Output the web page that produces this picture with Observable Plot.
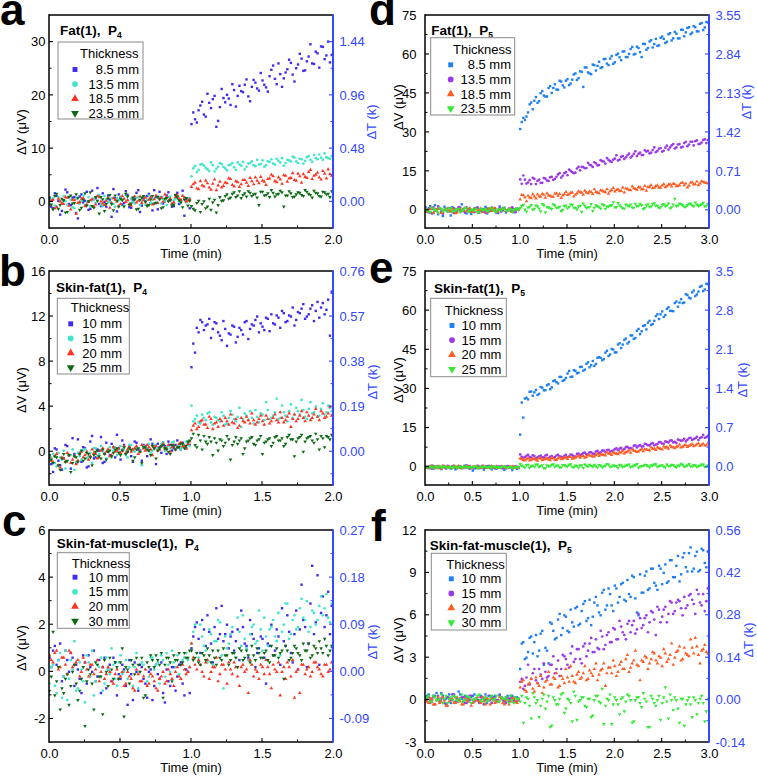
<!DOCTYPE html>
<html><head><meta charset="utf-8">
<script src="https://cdn.jsdelivr.net/npm/d3@7"></script>
<script src="https://cdn.jsdelivr.net/npm/@observablehq/plot@0.6"></script>
<style>
html,body{margin:0;padding:0;background:#fff;}
#fig{position:relative;width:757px;height:780px;overflow:hidden;background:#fff;}
#fig svg{position:absolute;}
</style></head>
<body><div id="fig"></div>
<script>
// ================= DATA =================
const STEP_2MIN = 0.025;   // sampling interval (min) in 2-min runs
const STEP_3MIN = 1 / 30;  // sampling interval (min) in 3-min runs
const HEAT_ON = 1.0;       // heating switched on at t = 1 min
// "Mid" arrays are the interleaved readings taken half a step later.

const xTicks2 = [0, 0.5, 1, 1.5, 2];
const xTicks3 = [0, 0.5, 1, 1.5, 2, 2.5, 3];

const thickFat = ["8.5 mm", "13.5 mm", "18.5 mm", "23.5 mm"];
const thickSkinFat = ["10 mm", "15 mm", "20 mm", "25 mm"];
const thickSkinFatMuscle = ["10 mm", "15 mm", "20 mm", "30 mm"];

// ---- panel a : Fat(1), P4 ----
const aYDomain = [-5, 35];
const aLeftTicks = [0, 10, 20, 30];
const aRightLabels = ["0.00", "0.48", "0.96", "1.44"];
const aBefore1 = [0.5,-1.2,1.1,-2.4,0.3,1.8,-0.6,0.9,-3.1,1.4,0.2,-1.5,2.1,0.7,-0.4,1.6,-0.9,0.4,2.4,-1.8,0.8,-0.2,1.3,-1.1,0.6,2.2,-0.7,0.1,1.5,-1.6,0.9,1.9,-0.3,1.2,0.4,-0.8,1.7,0.3,-2.6,0.6];
const aBeforeMid1 = [-0.9,1.6,0.2,-1.7,2.3,-0.4,0.8,-2.1,1.0,-0.1,1.9,-1.3,0.5,2.6,-0.8,0.0,1.2,-2.8,0.7,1.4,-0.5,2.0,-1.0,0.3,1.7,-1.9,0.6,1.1,-0.2,2.2,-1.4,0.9,0.1,1.8,-0.9,1.3,-0.4,2.1,0.5,-1.2];
const aAfter1 = [14.6,15.5,17.2,18.8,16.0,18.6,19.3,14.1,17.8,19.5,20.1,18.2,21.0,19.9,20.8,22.0,19.8,21.6,22.4,20.9,22.8,21.5,23.6,25.6,22.1,24.0,23.2,24.9,26.1,22.6,25.8,26.9,24.7,27.3,26.0,28.2,25.2,29.1,27.5,26.2,28.8];
const aAfterMid1 = [16.8,14.9,18.1,16.4,20.3,17.6,19.9,15.2,21.2,18.7,19.4,22.1,17.9,21.8,20.6,23.0,18.9,22.9,21.3,24.2,22.0,20.7,24.8,23.1,26.0,21.6,24.3,26.7,23.9,25.1,27.8,24.6,26.4,29.6,25.9,27.9,29.2,26.8,30.1,27.6];
const aBefore2 = [-0.3,0.6,-0.9,0.2,1.1,-0.5,0.4,-1.2,0.8,0.1,-0.6,0.9,0.3,-0.2,1.3,-0.8,0.5,0.0,-0.4,0.7,1.0,-0.7,0.3,0.6,-0.3,0.9,0.2,-0.5,1.2,0.4,-0.1,0.8,0.5,-0.6,1.0,0.3,0.7,-0.2,0.9,0.4];
const aBeforeMid2 = [0.4,-0.7,0.9,-0.2,0.1,1.0,-1.0,0.5,-0.4,1.2,0.0,-0.8,0.6,0.2,-0.5,1.1,-0.1,0.7,-0.9,0.3,0.5,1.3,-0.4,0.0,0.8,-0.6,1.0,0.4,-0.2,0.6,1.1,-0.3,0.2,0.9,-0.5,0.6,0.1,1.2,-0.1,0.7];
const aAfter2 = [4.8,6.7,6.0,7.1,6.4,5.8,6.9,6.2,7.3,6.6,5.9,7.0,6.5,7.4,6.8,6.1,7.2,7.6,6.7,7.0,7.8,6.9,7.5,7.2,8.1,7.4,6.8,7.9,7.6,8.3,7.3,8.0,7.7,8.6,7.5,8.2,8.9,7.9,8.4,8.1,8.7];
const aAfterMid2 = [6.3,5.6,7.0,6.8,6.1,7.4,5.7,6.6,7.1,6.3,6.9,7.3,6.0,7.0,7.5,6.6,7.3,6.9,7.9,7.1,6.6,7.6,8.0,7.0,7.7,8.2,7.3,7.8,8.5,7.6,8.1,7.2,8.4,7.9,8.8,8.0,8.3,9.1,8.2,8.6];
const aBefore3 = [-0.6,0.4,-1.0,0.1,-0.4,0.8,-1.4,0.3,-0.2,0.6,-0.8,0.0,0.5,-0.5,0.9,-0.3,0.2,-1.1,0.7,0.1,-0.4,0.6,0.3,-0.7,1.0,0.2,-0.2,0.8,0.4,-0.5,1.2,0.5,0.0,0.9,0.6,-0.1,1.3,0.4,0.8,0.2];
const aBeforeMid3 = [0.2,-1.2,0.6,-0.3,0.9,-0.7,0.4,-2.2,0.0,0.7,-0.5,0.3,-0.9,1.1,0.1,-0.6,0.8,-0.2,0.4,-0.8,1.1,0.0,-0.4,0.7,-0.1,1.0,0.3,-0.6,0.9,0.5,-0.2,0.8,1.4,0.2,-0.3,0.9,0.6,1.1,0.1,0.5];
const aAfter3 = [2.8,3.6,2.4,3.1,4.0,2.7,3.4,2.2,3.8,3.0,3.5,4.3,2.9,3.7,3.3,4.1,3.0,3.9,4.6,3.5,4.0,3.2,4.4,4.8,3.7,4.2,5.0,3.8,4.5,4.1,5.3,3.6,4.7,5.6,4.3,5.1,4.6,5.8,4.4,5.2,5.5];
const aAfterMid3 = [3.3,2.5,3.9,2.9,3.5,2.3,4.2,3.1,2.7,3.6,4.4,3.2,3.9,2.8,4.1,3.6,4.5,3.3,4.0,4.7,3.8,4.3,5.1,3.9,4.6,3.4,4.9,4.4,5.4,4.0,4.8,5.2,4.5,6.0,4.9,5.5,4.2,5.3,6.1,4.9];
const aBefore4 = [0.8,-1.4,1.5,-0.6,0.3,-1.9,1.2,-0.2,0.7,-1.1,1.6,0.1,-0.8,0.9,-2.2,0.5,-0.4,1.3,-1.6,0.2,0.6,-0.9,1.0,-0.3,0.4,-1.3,0.8,0.0,-0.6,1.1,-0.2,0.5,-1.0,0.7,0.3,-0.5,0.9,-0.1,0.4,-0.7];
const aBeforeMid4 = [-0.5,1.1,-1.3,0.6,-2.0,0.9,-0.3,1.4,-1.5,0.4,-0.7,1.8,-1.1,0.2,0.9,-1.7,0.6,-0.4,1.2,-0.9,0.3,1.5,-0.6,0.8,-1.4,0.4,1.1,-0.8,0.5,-0.3,0.9,-1.2,0.6,0.1,-0.7,1.3,0.3,-1.0,0.7,0.2];
const aAfter4 = [-0.8,-1.6,0.2,-0.4,-1.2,0.6,-0.1,-2.0,0.9,0.3,1.4,0.8,1.8,1.2,0.7,1.6,2.0,1.1,1.5,-0.6,1.9,1.3,0.9,1.7,1.4,2.1,-0.9,1.2,1.6,1.0,1.8,1.3,2.2,1.5,0.8,1.7,1.1,1.9,1.4,0.9,1.6];
const aAfterMid4 = [-1.3,-0.2,-1.9,0.1,-0.9,-1.5,0.4,-0.6,0.2,1.1,0.6,1.5,0.9,2.0,1.3,1.0,1.7,1.4,0.8,1.9,1.2,1.6,2.2,1.0,1.5,1.8,1.2,2.0,0.9,1.4,1.7,1.1,1.9,1.3,2.1,1.6,1.0,1.8,1.5,2.0];

// ---- panel b : Skin-fat(1), P4 ----
const bYDomain = [-3, 16];
const bLeftTicks = [0, 4, 8, 12, 16];
const bRightLabels = ["0.00", "0.19", "0.38", "0.57", "0.76"];
const bBefore1 = [-0.4,-1.8,0.2,-1.2,-0.6,0.5,-1.5,-0.2,1.1,-0.9,0.3,-1.3,1.4,-0.5,0.1,-1.0,0.8,-0.3,0.4,1.5,-0.7,0.6,0.0,-0.4,0.9,0.2,-0.8,0.5,0.1,0.7,-1.1,0.4,0.8,-0.2,0.6,0.3,1.0,0.2,0.5,0.7];
const bBeforeMid1 = [-1.1,0.3,-0.8,-1.6,0.6,-0.3,1.2,-1.0,-0.1,0.4,-1.4,0.9,-0.6,0.2,1.3,-0.9,0.0,0.7,-0.5,0.3,1.0,-0.2,0.5,-0.9,0.8,0.1,0.6,-0.4,1.1,0.3,0.7,-0.1,0.5,0.9,0.1,0.6,0.4,0.8,0.3,0.6];
const bAfter1 = [7.5,8.8,10.6,11.5,11.2,11.8,10.9,11.4,10.3,11.6,9.4,10.4,11.1,10.2,10.8,11.5,10.0,11.3,11.7,10.6,11.1,11.9,10.7,11.4,12.1,11.0,12.3,11.6,12.0,11.2,12.4,12.7,11.8,12.2,13.0,12.5,11.9,13.2,12.6,10.3,13.6];
const bAfterMid1 = [9.6,11.0,11.7,10.8,11.3,10.1,11.5,10.6,9.9,10.9,10.5,11.2,9.7,11.0,10.4,11.6,10.9,11.2,12.0,11.4,10.8,11.8,12.2,11.3,11.9,12.5,11.5,12.1,12.8,11.7,12.3,13.1,12.0,12.7,11.6,13.3,12.8,12.2,13.5,14.2];
const bBefore2 = [-0.8,-0.2,-1.3,-0.5,0.1,-0.9,-0.3,-1.6,-0.1,-0.7,0.2,-0.4,-1.0,0.3,-0.2,0.0,-0.6,0.4,0.1,-0.3,0.5,0.2,-0.5,0.6,0.0,0.3,-1.2,0.4,0.7,0.1,0.5,0.2,0.8,0.4,0.3,0.9,0.5,0.2,0.6,0.8];
const bBeforeMid2 = [-0.5,-1.0,-0.1,-0.7,-1.5,-0.3,0.2,-0.9,-0.4,0.1,-0.6,-0.1,0.3,-0.4,0.5,-0.2,0.1,-0.5,0.4,0.0,0.2,-0.3,0.6,0.1,0.4,0.0,0.5,0.2,-0.1,0.6,0.3,0.7,0.1,0.5,0.8,0.2,0.6,0.4,0.9,0.5];
const bAfter2 = [4.1,2.9,2.6,3.3,2.8,3.5,2.4,3.0,2.7,3.2,2.5,3.6,2.9,3.1,2.2,3.4,2.8,3.0,3.7,2.6,3.3,4.4,2.9,3.2,4.7,3.0,3.5,2.7,4.2,3.3,3.6,4.6,3.1,3.8,3.4,4.0,3.2,4.3,3.5,3.9,3.4];
const bAfterMid2 = [2.7,3.2,2.5,3.0,3.4,2.6,3.1,2.8,3.5,2.4,3.0,3.3,2.7,3.9,2.9,3.2,3.6,2.5,3.1,3.4,2.8,3.7,3.0,3.5,2.9,4.1,3.2,3.6,3.0,3.9,3.3,3.7,2.9,4.4,3.5,3.1,3.8,3.3,4.1,3.6];
const bBefore3 = [-0.5,-0.9,-0.2,-1.4,-0.6,-0.1,-1.0,-0.4,-0.8,0.0,-0.3,-0.7,0.2,-0.2,-0.5,0.3,0.0,-0.4,0.4,0.1,-0.1,0.5,0.2,0.0,0.3,-0.2,0.6,0.1,0.4,-0.3,0.5,0.2,0.7,0.3,0.0,0.6,0.4,0.8,0.5,0.7];
const bBeforeMid3 = [-0.8,-0.4,-1.2,-0.5,-0.9,-0.3,-0.7,-1.1,-0.2,-0.5,0.0,-0.4,-0.1,-0.6,0.1,-0.2,0.2,-0.3,0.0,0.3,0.1,-0.1,0.4,0.2,0.5,0.0,0.3,0.6,0.2,0.4,0.1,0.5,0.3,0.6,0.4,0.2,0.7,0.5,0.3,0.9];
const bAfter3 = [1.9,2.5,2.2,2.8,2.4,3.1,2.0,2.6,2.9,2.3,2.7,3.3,2.5,2.1,3.0,2.6,2.8,3.4,2.4,2.9,2.7,3.2,2.5,3.0,2.8,3.5,2.6,3.1,2.2,3.3,2.9,3.6,2.7,3.2,3.0,3.8,2.8,3.4,3.1,4.0,3.3];
const bAfterMid3 = [2.3,2.0,2.7,2.4,2.1,2.9,2.5,2.2,2.7,3.0,2.4,2.6,2.9,2.3,2.7,3.1,2.5,2.8,2.6,3.2,2.4,2.9,2.7,3.3,2.6,3.0,2.8,3.4,2.9,2.7,3.2,3.0,3.5,2.8,3.3,3.1,3.6,3.0,3.4,3.2];
const bBefore4 = [-0.3,-1.0,-0.5,-1.6,-0.2,-0.8,-1.8,-0.4,-0.9,0.1,-0.6,-0.2,-1.2,0.0,-0.4,0.2,-0.7,0.1,-0.1,0.3,-0.3,0.4,0.0,0.2,-0.5,0.3,-1.0,0.4,0.1,0.5,-0.6,0.3,0.6,0.2,-0.2,0.5,0.4,0.7,0.3,0.9];
const bBeforeMid4 = [-0.7,-0.4,-1.2,-0.6,-0.9,-0.3,-1.0,-0.5,-0.2,-0.8,-0.1,-0.5,-0.3,0.1,-0.6,-0.2,0.0,-0.4,0.2,-0.1,0.1,-0.2,0.3,-0.8,0.2,0.0,0.4,0.2,-0.3,0.3,0.1,0.5,0.3,0.0,0.6,0.2,0.4,0.7,0.5,1.0];
const bAfter4 = [1.2,0.6,1.5,0.2,0.9,1.3,-0.3,0.8,1.1,0.5,1.4,-0.7,0.9,0.7,1.2,0.3,1.0,1.3,0.6,1.1,-0.2,0.9,1.2,0.8,1.4,1.0,0.5,1.3,1.1,-0.4,1.2,1.5,0.9,1.3,1.0,1.6,0.2,1.2,1.4,1.1,1.3];
const bAfterMid4 = [1.6,0.4,1.0,1.4,0.7,0.9,1.2,0.1,1.0,0.8,1.1,0.6,1.3,1.0,-0.2,0.9,1.2,0.7,1.0,1.4,0.8,1.1,0.5,1.3,1.0,1.2,0.7,1.5,1.1,0.9,1.3,0.0,1.2,1.4,0.8,1.1,1.4,0.4,1.3,1.5];

// ---- panel c : Skin-fat-muscle(1), P4 ----
const cYDomain = [-3, 6];
const cLeftTicks = [-2, 0, 2, 4, 6];
const cRightLabels = ["-0.09", "0.00", "0.09", "0.18", "0.27"];
const cBefore1 = [0.6,0.9,0.3,1.2,-0.2,0.5,0.8,-0.6,0.1,-0.9,0.4,0.7,0.0,-0.4,0.5,0.2,-0.7,0.3,0.6,-1.0,-0.3,0.1,-1.4,-0.1,0.4,-0.8,0.2,-0.5,0.0,-1.2,0.3,-0.3,-0.9,0.1,-0.6,0.2,-0.2,0.4,-1.0,0.0];
const cBeforeMid1 = [0.2,1.1,0.5,-0.4,0.9,0.0,0.6,0.3,-0.3,0.7,-0.5,0.2,0.9,-0.2,-0.9,0.6,0.1,-0.4,0.4,-0.1,0.3,-0.6,0.5,-1.2,0.0,0.3,-0.3,-1.1,0.1,-0.6,-0.1,0.4,-1.3,-0.4,0.2,-0.8,0.3,-0.5,0.1,-0.9];
const cAfter1 = [1.0,1.9,1.4,2.2,1.1,1.7,0.4,2.7,1.6,1.3,2.0,1.5,0.9,1.8,2.6,1.2,0.6,1.6,0.2,1.0,1.4,-0.5,1.1,0.7,1.8,0.3,1.3,2.4,0.8,1.6,0.1,3.7,1.9,1.2,4.5,2.1,0.3,3.2,2.4,1.6,2.3];
const cAfterMid1 = [1.5,2.1,0.8,1.8,2.4,1.2,1.9,1.4,2.8,1.6,1.0,1.7,1.3,0.5,1.9,1.1,2.2,1.4,0.8,1.5,0.6,1.2,2.0,0.9,1.5,2.7,1.1,1.7,0.4,2.6,1.8,2.2,0.2,2.9,1.6,4.1,2.5,1.9,3.4,2.8];
const cBefore2 = [-0.5,0.3,-0.9,0.8,-0.2,-1.2,0.5,1.3,-0.7,0.1,-1.3,0.4,0.9,-0.4,0.2,-0.8,0.6,-0.1,0.3,-0.6,0.7,0.0,-0.3,0.5,0.2,-0.7,0.4,0.1,-0.2,0.6,0.3,-0.5,0.5,0.8,0.0,0.4,0.7,-0.3,0.6,0.5];
const cBeforeMid2 = [0.2,-0.6,0.5,-1.1,0.9,-0.3,0.1,-0.8,0.4,-0.4,0.7,-0.2,-1.0,0.3,0.6,-0.5,0.1,1.0,-0.3,0.4,-0.1,0.5,0.2,-0.6,0.8,0.0,0.3,-0.4,0.6,0.1,0.4,0.7,-0.2,0.3,0.9,0.2,-0.1,0.5,0.8,0.2];
const cAfter2 = [1.2,2.0,0.6,1.5,0.9,1.8,0.3,1.3,2.1,-0.7,1.0,1.6,0.8,2.3,1.1,1.4,0.5,1.9,1.2,2.6,0.9,1.5,1.8,2.2,1.3,0.7,2.0,2.9,1.6,2.4,1.9,3.1,2.2,1.7,2.6,2.0,2.8,2.4,3.3,2.1,2.6];
const cAfterMid2 = [1.7,0.8,2.0,1.1,0.4,1.6,1.3,2.2,0.7,1.5,1.2,1.9,0.6,1.7,2.4,1.0,1.6,2.0,1.3,1.8,2.3,1.1,1.9,1.5,2.5,1.7,2.9,1.4,2.2,1.8,2.7,2.3,3.0,1.9,2.5,2.2,3.2,2.7,2.3,2.9];
const cBefore3 = [0.7,0.4,0.9,0.2,0.6,-0.1,0.8,0.3,0.5,0.0,0.4,-0.2,0.3,0.1,-0.4,0.2,-0.1,0.0,-0.5,0.1,-0.2,-0.6,0.0,-0.3,-0.8,-0.1,-0.4,0.1,-0.5,-0.2,-0.7,-0.3,0.0,-0.4,-0.1,-0.6,0.2,-0.3,0.1,0.0];
const cBeforeMid3 = [0.5,0.8,0.1,0.6,0.3,0.9,0.2,0.4,-0.2,0.6,0.1,0.3,-0.1,0.5,0.0,-0.3,0.2,-0.4,-0.1,-0.3,0.0,-0.5,-0.2,-0.7,0.1,-0.4,-0.2,-0.6,-0.1,-0.4,-0.8,-0.2,-0.5,0.1,-0.3,0.0,-0.2,0.3,-0.1,0.2];
const cAfter3 = [1.2,0.3,0.5,0.0,0.4,-0.3,0.2,0.6,-0.1,0.3,-0.5,0.1,0.4,-0.2,0.2,0.0,-0.9,0.3,0.1,-0.3,0.2,0.5,-0.1,0.3,0.0,-1.0,0.2,0.4,-0.2,-1.1,0.1,0.3,-0.1,0.2,0.0,0.4,0.1,-0.2,0.3,0.1,0.2];
const cAfterMid3 = [0.6,0.1,0.3,-0.2,0.5,0.0,0.2,-0.4,0.3,0.1,0.4,-0.1,0.2,-0.6,0.3,0.1,0.5,-0.2,0.0,0.3,-0.1,0.2,-0.7,0.1,0.4,0.0,-0.3,0.2,0.5,0.0,-0.9,0.3,0.1,-0.2,0.4,0.2,-0.1,0.3,0.0,0.4];
const cBefore4 = [-0.8,1.7,-0.4,-1.6,-0.9,-0.1,-0.6,0.3,-1.2,-0.3,-2.3,0.1,-0.5,0.4,-0.2,-1.8,0.0,0.6,-0.3,0.2,0.4,-1.9,0.1,0.5,-0.1,0.3,0.6,-1.0,0.2,0.5,0.7,0.3,-1.1,0.6,0.4,0.7,0.5,0.3,0.8,0.6];
const cBeforeMid4 = [-0.2,-1.0,0.2,-0.7,-0.3,-1.4,0.0,-0.5,-0.8,0.2,-0.4,-0.1,-1.6,0.3,-0.2,0.5,-0.6,0.1,0.4,-0.3,1.0,0.2,-0.5,0.3,0.6,0.0,-1.1,0.4,0.7,0.2,0.5,0.8,0.3,0.6,-0.4,0.5,0.8,0.4,0.6,0.9];
const cAfter4 = [0.9,0.6,0.4,0.8,0.5,0.7,0.9,0.3,0.6,1.0,0.7,0.5,0.8,0.2,0.9,0.6,0.7,1.1,0.5,0.8,0.6,0.9,0.4,0.7,1.0,0.8,-0.3,0.9,0.6,1.1,0.8,0.5,0.9,1.2,0.7,1.0,1.3,0.8,1.1,0.9,1.0];
const cAfterMid4 = [0.5,0.8,0.3,0.7,1.0,0.4,0.6,0.9,0.5,0.7,0.3,0.8,0.6,1.0,0.5,0.9,0.4,0.7,1.0,0.6,0.8,0.5,1.1,0.7,0.6,0.9,1.1,0.5,0.8,1.0,0.7,1.2,0.9,0.6,1.1,0.8,1.0,1.4,0.7,1.1];

// ---- panel d : Fat(1), P5 ----
const dYDomain = [-7, 75];
const dLeftTicks = [0, 15, 30, 45, 60, 75];
const dRightLabels = ["0.00", "0.71", "1.42", "2.13", "2.84", "3.55"];
const dBefore1 = [1.2,-0.8,0.5,2.0,-1.5,0.3,1.4,-0.4,-2.0,0.8,-0.6,1.1,0.2,-1.2,0.6,-0.3,0.9,-0.9,0.4,1.3,-0.5,0.1,0.7,-1.0,0.5,1.0,-0.2,0.3,-0.7,0.6];
const dBeforeMid1 = [-0.4,1.6,-1.1,0.2,0.9,-2.2,0.6,-0.3,1.2,-0.9,0.4,2.3,-0.6,0.1,-1.4,0.7,1.0,-0.2,0.5,-1.2,0.8,0.2,-0.5,1.5,0.0,-0.8,0.6,0.9,-0.4,0.3];
const dAfter1 = [31.3,35.6,36.1,40.8,38.9,43.6,42.0,45.9,43.8,47.1,45.2,48.5,46.4,49.6,47.3,50.5,48.8,52.3,50.2,53.5,47.5,55.0,52.7,56.1,53.8,57.2,55.1,58.3,55.9,59.4,57.0,60.3,57.8,61.2,59.0,62.1,60.0,63.0,60.9,64.1,61.8,65.0,62.7,66.0,63.5,66.9,64.4,67.8,65.4,68.7,66.2,69.5,67.0,70.2,67.8,70.9,68.9,71.8,69.4,72.5,70.3];
const dAfterMid1 = [34.0,34.8,37.7,41.5,42.2,41.4,45.1,44.2,43.8,47.8,47.1,46.5,49.9,48.1,49.9,48.2,50.3,52.7,50.9,53.3,55.0,53.1,52.4,55.9,55.6,54.8,58.2,56.5,58.4,56.4,59.8,58.9,61.1,59.0,60.2,62.9,60.2,62.5,59.0,64.0,62.5,65.5,64.0,63.3,66.4,66.0,64.9,68.2,66.2,68.0,66.2,69.5,68.5,70.5,68.4,70.5,68.9,72.1,70.4,72.3];
const dBefore2 = [-0.5,0.8,-1.2,0.3,1.5,-0.7,0.2,-0.3,0.9,-1.0,0.4,-0.2,0.6,1.1,-0.6,0.0,0.7,-0.4,0.3,-0.9,0.5,1.0,-0.1,0.2,-0.5,0.8,0.1,-0.3,0.4,0.6];
const dBeforeMid2 = [0.4,-0.9,1.1,-0.2,0.6,-1.3,0.0,0.9,-0.6,0.3,1.2,-0.4,-0.9,0.5,0.2,-0.7,1.0,0.1,-0.5,0.7,-0.2,0.4,-1.0,0.8,0.3,-0.4,0.6,1.1,-0.7,0.2];
const dAfter2 = [11.9,13.4,10.3,11.6,12.5,10.1,11.8,10.6,12.2,11.3,12.9,12.1,13.8,12.6,14.3,13.5,15.2,14.3,16.1,15.4,16.6,16.3,17.5,16.7,18.1,17.4,18.9,18.0,19.4,18.6,19.9,19.2,20.6,19.8,21.2,20.3,21.7,20.9,22.2,21.3,22.6,21.9,23.2,22.4,23.7,22.6,24.1,23.4,25.0,23.8,25.3,24.2,25.9,24.7,26.4,25.0,26.9,25.6,27.1,25.9,26.5];
const dAfterMid2 = [10.2,11.8,10.7,10.1,12.1,11.3,10.6,12.4,11.4,12.7,11.7,12.9,14.3,13.3,14.7,15.7,14.7,14.5,16.7,16.7,16.2,18.3,17.3,18.5,17.3,19.3,18.8,20.1,18.9,19.5,21.2,19.5,20.9,20.4,21.8,20.9,22.7,21.7,21.3,23.1,22.9,22.2,24.2,22.9,24.0,22.9,24.9,24.2,25.5,24.2,25.5,24.4,26.4,25.3,26.4,26.6,25.5,26.1,27.3,27.0];
const dBefore3 = [0.3,-0.6,0.9,-0.2,0.5,-1.0,0.1,0.7,-0.4,0.2,-0.8,0.6,0.0,-0.3,0.8,-0.5,0.4,0.1,-0.7,0.3,0.6,-0.2,0.9,-0.4,0.2,0.5,-0.1,0.7,0.0,0.4];
const dBeforeMid3 = [-0.3,0.5,-0.9,0.2,0.8,-0.5,0.3,-0.1,0.6,-1.1,0.4,-0.2,0.9,0.1,-0.6,0.5,-0.3,0.7,0.0,-0.8,0.3,0.6,-0.4,0.1,0.8,-0.2,0.4,-0.6,0.5,0.2];
const dAfter3 = [4.2,5.8,3.5,5.0,6.1,4.6,5.4,6.3,4.9,5.7,5.2,6.4,5.6,4.8,6.2,5.9,6.7,5.3,6.5,7.0,6.0,6.8,7.3,6.3,7.1,6.6,7.6,7.0,6.4,7.8,7.3,8.1,7.5,6.9,8.2,7.7,8.5,7.9,8.8,8.2,7.6,9.0,8.5,9.3,8.7,9.6,8.9,9.9,9.2,10.1,9.4,10.5,9.7,8.8,10.6,10.0,11.1,10.3,10.9,10.5,11.4];
const dAfterMid3 = [5.9,5.0,5.6,4.7,5.3,6.1,5.2,6.0,6.5,5.6,5.2,6.5,6.3,5.7,7.1,6.2,6.9,6.0,7.3,6.8,7.6,6.6,7.0,8.1,6.8,7.7,7.2,8.1,7.4,8.6,7.8,7.4,8.7,8.4,7.8,9.2,8.2,8.9,8.0,9.4,8.9,9.7,8.7,9.6,8.7,10.1,9.3,10.1,10.2,9.3,9.7,10.6,10.3,9.5,10.8,10.1,9.7,11.2,10.7,10.3];
const dBefore4 = [0.5,-0.4,1.0,0.0,-0.9,0.6,0.2,-0.5,0.8,-0.2,0.4,-0.7,0.3,0.9,-0.3,0.1,0.6,-0.6,0.2,0.5,-0.1,0.7,-0.4,0.3,0.0,0.8,-0.2,0.4,0.1,0.6];
const dBeforeMid4 = [0.2,-0.7,0.6,-0.1,0.9,-0.4,0.3,0.7,-0.6,0.1,0.5,-0.2,0.8,-0.5,0.4,0.0,-0.8,0.6,0.2,-0.3,0.9,0.1,-0.5,0.4,0.7,-0.1,0.3,-0.6,0.5,0.2];
const dAfter4 = [0.9,2.1,-0.5,1.4,0.3,1.8,0.7,2.4,-0.8,1.2,0.5,1.9,1.0,-0.3,1.6,0.8,2.2,1.1,0.4,1.7,2.6,0.9,1.3,-0.2,1.9,1.2,2.3,0.6,1.5,2.0,1.1,2.8,1.4,0.7,1.8,2.2,1.0,1.6,2.5,0.5,1.9,1.3,2.4,1.7,0.9,2.1,1.5,2.7,1.2,4.4,1.8,2.3,1.4,2.0,2.6,1.6,2.2,1.9,2.9,1.7,2.3];
const dAfterMid4 = [1.6,0.3,1.1,2.0,0.6,1.5,-0.4,1.9,1.2,0.8,2.3,1.0,1.4,0.2,1.8,1.3,2.1,0.9,1.5,-0.6,1.7,1.2,2.4,1.0,1.6,0.7,2.0,1.4,1.8,3.1,1.3,1.9,0.8,2.2,1.6,1.1,2.5,1.7,2.0,0.9,2.3,1.5,2.7,1.8,1.2,2.4,1.9,0.8,2.2,1.6,2.6,2.0,1.4,2.5,1.9,3.0,1.7,2.3,1.5,2.4];

// ---- panel e : Skin-fat(1), P5 ----
const eYDomain = [-7, 75];
const eLeftTicks = [0, 15, 30, 45, 60, 75];
const eRightLabels = ["0.0", "0.7", "1.4", "2.1", "2.8", "3.5"];
const eBefore1 = [0.3,-0.4,0.6,-0.2,0.1,-0.7,0.4,0.0,-0.5,0.5,-0.1,0.2,-0.3,0.7,-0.6,-1.3,0.1,-0.4,0.3,-0.2,0.5,-0.8,0.0,0.2,-0.3,-1.0,0.4,-0.1,0.2,-0.6];
const eBeforeMid1 = [-0.2,0.4,-0.6,0.2,-0.1,0.5,-0.4,0.1,0.3,-0.8,0.2,-0.3,0.6,-0.1,0.0,-0.5,0.3,-0.2,-0.9,0.4,-0.3,0.1,-0.6,0.3,0.0,-0.4,0.2,-1.1,0.1,-0.3];
const eAfter1 = [12.5,19.0,26.6,28.9,27.4,29.6,28.1,30.5,29.5,31.8,30.6,33.3,32.1,34.6,33.4,35.9,34.6,37.2,36.0,38.4,37.0,39.6,38.3,40.7,39.6,42.2,41.0,43.9,42.6,45.3,44.0,47.0,45.7,48.8,47.4,50.5,49.2,52.3,51.0,54.1,52.8,56.1,54.9,57.9,56.8,59.7,58.3,61.3,59.9,62.9,61.5,64.4,63.1,66.0,64.7,67.7,66.2,69.1,67.5,70.3,69.0];
const eAfterMid1 = [24.8,26.3,26.0,29.0,28.7,27.7,30.7,29.5,31.4,29.9,33.0,32.6,34.6,33.1,34.2,36.9,34.7,36.9,36.2,38.5,37.4,40.2,39.1,38.8,41.9,41.9,41.4,44.6,43.2,45.1,44.0,47.5,47.0,49.3,48.0,50.5,49.5,53.0,52.1,54.4,55.4,54.5,56.1,58.6,58.6,57.6,60.7,59.9,59.8,63.5,63.1,62.9,66.3,65.0,67.0,65.6,67.3,69.5,68.1,70.2];
const eBefore2 = [-0.2,0.3,-0.5,0.1,0.4,-0.3,0.0,0.5,-0.1,0.2,-0.4,0.3,0.0,-0.2,0.4,0.1,-0.3,0.2,0.5,-0.1,0.0,0.3,-0.4,0.1,0.2,-0.2,0.4,0.0,-0.3,0.1];
const eBeforeMid2 = [0.1,-0.3,0.4,0.0,-0.2,0.3,-0.4,0.1,0.2,-0.1,0.4,-0.3,0.1,0.3,-0.2,0.0,0.5,-0.1,-0.3,0.2,0.1,-0.2,0.3,0.0,-0.4,0.2,0.1,-0.1,0.3,0.0];
const eAfter2 = [4.9,3.6,4.4,3.9,4.6,3.4,4.2,3.8,4.5,3.5,4.3,3.9,4.7,4.0,4.4,3.8,4.8,4.2,5.1,4.6,5.4,4.9,5.7,5.2,6.0,5.5,6.4,5.8,6.7,6.2,6.9,6.5,7.4,6.9,7.8,7.3,8.2,7.6,8.5,8.0,8.8,8.4,9.2,8.7,9.6,9.1,9.9,9.5,10.3,9.7,10.6,10.1,10.9,10.5,11.3,10.8,11.6,11.2,12.4,11.5,11.9];
const eAfterMid2 = [4.0,3.9,4.7,3.7,4.3,3.8,4.5,3.8,4.7,4.0,3.6,4.5,4.2,3.7,4.7,4.1,4.7,4.1,5.2,4.9,5.6,4.9,5.7,5.1,6.3,5.7,6.4,6.6,6.0,6.4,7.2,7.1,6.6,7.7,7.3,7.1,8.4,8.1,7.9,9.0,8.4,9.0,8.4,8.9,9.6,9.0,9.7,10.2,9.5,9.3,10.4,10.3,9.9,11.1,10.5,11.1,10.4,11.5,11.3,12.0];
const eBefore3 = [0.1,-0.3,0.4,-0.1,0.2,-0.5,0.3,0.0,-0.2,0.5,0.1,-0.4,0.2,0.4,-0.1,0.0,0.3,-0.3,0.1,0.2,-0.2,0.4,0.0,-0.1,0.3,0.1,-0.3,0.2,0.0,-0.2];
const eBeforeMid3 = [-0.2,0.3,0.0,-0.4,0.2,0.5,-0.1,0.1,-0.3,0.2,0.4,-0.2,0.0,0.3,-0.5,0.1,0.2,-0.1,0.4,-0.3,0.1,0.0,0.3,-0.2,0.2,-0.4,0.1,0.3,-0.1,0.0];
const eAfter3 = [3.4,2.8,3.1,2.6,3.3,2.9,3.5,2.7,3.2,3.0,3.6,2.9,3.4,3.1,3.7,3.2,3.9,3.5,4.1,3.7,4.3,3.9,4.5,4.1,4.7,4.3,4.9,4.5,5.2,4.7,5.4,5.0,5.7,5.3,6.0,5.6,6.3,5.9,6.5,6.1,6.8,6.4,7.0,6.6,7.3,6.8,7.5,7.1,7.8,7.3,8.0,7.6,8.3,7.8,8.5,8.1,8.8,8.2,9.0,8.4,8.6];
const eAfterMid3 = [3.1,2.6,3.5,2.8,3.2,2.5,3.4,3.0,3.5,2.7,3.4,2.8,3.8,3.3,3.8,3.9,3.3,3.7,4.4,4.2,3.7,4.7,4.3,4.1,5.2,4.9,4.7,5.7,5.2,5.7,5.2,5.7,6.3,5.7,6.4,6.8,6.2,6.0,7.0,6.9,6.6,7.6,7.1,7.6,7.0,8.0,7.7,8.3,7.6,7.9,8.7,7.8,8.5,8.2,8.9,8.3,9.1,8.6,8.3,9.2];
const eBefore4 = [0.2,-0.1,0.0,0.3,-0.3,0.1,0.4,-0.2,0.2,0.0,-0.4,0.3,0.1,-0.1,0.2,0.0,0.4,-0.2,0.1,0.3,0.0,-0.3,0.2,0.1,-0.1,0.3,0.0,0.2,-0.2,0.1];
const eBeforeMid4 = [0.0,0.3,-0.2,0.1,0.4,-0.1,0.2,0.0,-0.3,0.3,0.1,-0.2,0.4,0.0,-0.1,0.2,-0.3,0.3,0.1,-0.1,0.2,0.4,-0.2,0.0,0.3,-0.1,0.1,-0.3,0.2,0.0];
const eAfter4 = [1.2,0.3,0.8,-0.2,0.6,1.0,0.1,0.7,-0.4,0.5,0.9,0.2,0.6,-0.1,0.8,0.4,1.1,0.0,0.5,0.7,-0.3,0.6,0.9,0.2,0.4,0.8,0.0,0.6,1.0,0.3,0.5,-0.2,0.7,0.4,0.9,0.1,0.6,1.2,0.3,0.5,0.8,0.0,0.6,1.1,0.4,0.7,-0.1,0.5,0.9,0.3,0.6,1.3,0.2,0.7,0.4,0.8,0.1,0.6,1.0,0.3,0.5];
const eAfterMid4 = [0.6,-0.1,0.9,0.4,0.2,1.0,0.5,-0.3,0.7,0.3,1.1,0.6,0.0,0.8,0.4,0.9,0.2,0.6,-0.2,0.7,1.0,0.3,0.5,0.9,-0.1,0.6,0.4,1.2,0.2,0.7,0.5,0.9,0.1,0.6,1.0,0.3,0.8,-0.2,0.5,0.9,0.4,0.7,1.1,0.2,0.6,0.3,1.0,0.5,0.8,-0.1,0.6,0.9,0.4,1.2,0.3,0.7,0.5,1.0,0.2,0.7];

// ---- panel f : Skin-fat-muscle(1), P5 ----
const fYDomain = [-3, 12];
const fLeftTicks = [-3, 0, 3, 6, 9, 12];
const fRightLabels = ["-0.14", "0.00", "0.14", "0.28", "0.42", "0.56"];
const fBefore1 = [0.2,0.4,-0.1,0.3,0.1,0.5,0.0,0.2,-0.2,0.3,0.1,0.4,-0.1,0.2,0.0,0.3,0.1,-0.2,0.2,0.4,0.0,0.1,0.3,-0.1,0.2,0.0,0.3,0.1,-0.1,0.2];
const fBeforeMid1 = [0.3,0.0,0.2,0.5,-0.1,0.3,0.1,0.4,0.0,0.2,0.6,0.1,0.3,-0.1,0.2,0.4,0.0,0.3,0.1,-0.2,0.3,0.2,0.0,0.4,0.1,0.2,-0.1,0.3,0.2,0.0];
const fAfter1 = [2.2,4.1,3.0,4.4,3.3,4.6,3.5,4.9,3.7,2.6,5.4,4.3,5.7,4.6,6.0,4.9,6.4,5.2,6.6,5.4,6.8,5.6,7.1,5.9,7.3,6.2,7.6,6.4,7.9,6.7,8.1,6.9,8.2,7.1,8.5,7.3,8.7,6.2,8.9,7.6,9.1,7.9,9.3,8.1,9.5,8.2,9.6,8.4,9.9,8.7,10.2,8.9,10.4,9.1,10.8,9.3,10.5,9.2,10.6,9.4,10.1];
const fAfterMid1 = [4.0,2.9,3.4,4.5,4.1,3.1,4.7,2.5,3.5,5.5,4.9,4.4,6.1,5.1,5.9,4.8,5.5,6.5,5.3,6.3,7.0,5.8,5.3,6.9,6.7,6.0,7.8,6.7,7.5,6.3,7.9,7.3,8.3,7.0,7.5,8.8,7.2,6.0,7.6,8.8,7.8,9.3,8.3,7.8,9.3,9.0,8.3,9.9,8.7,9.5,8.4,10.1,9.4,10.4,9.1,10.2,9.1,10.7,9.7,10.5];
const fBefore2 = [-0.1,0.2,0.0,-0.3,0.3,0.1,-0.2,0.2,0.0,0.4,-0.1,0.1,0.2,-0.2,0.3,0.0,0.1,-0.1,0.2,0.0,0.3,-0.2,0.1,0.0,0.2,-0.1,0.1,0.3,0.0,-0.1];
const fBeforeMid2 = [0.1,-0.2,0.3,0.0,-0.1,0.2,-0.3,0.1,0.4,-0.1,0.0,0.2,-0.2,0.1,0.3,-0.1,0.0,0.2,-0.3,0.1,0.0,0.2,-0.1,0.3,0.0,-0.2,0.1,0.2,-0.1,0.1];
const fAfter2 = [1.3,0.8,1.6,1.1,1.9,1.4,2.2,1.5,2.0,1.7,2.5,1.9,2.8,2.2,3.1,2.5,3.3,2.7,3.6,2.9,3.8,3.1,4.0,3.4,4.3,3.6,4.5,3.9,4.8,4.1,5.0,4.3,5.2,4.6,5.4,4.8,5.6,5.0,5.8,5.3,6.0,5.5,6.2,4.6,6.4,5.9,6.6,6.1,6.9,6.3,7.1,6.5,7.3,6.7,7.5,6.8,7.8,6.9,7.5,7.0,7.3];
const fAfterMid2 = [1.5,1.0,2.5,1.5,2.2,1.2,1.8,2.6,1.6,2.5,3.1,2.2,1.7,3.2,2.9,2.3,3.8,2.9,3.6,2.6,4.0,3.5,4.4,3.4,3.7,4.9,3.6,4.6,4.1,5.1,4.3,5.6,4.8,4.3,5.6,5.3,4.7,6.1,5.1,5.8,4.8,6.3,5.7,6.6,5.5,6.4,5.5,7.0,6.1,6.9,7.0,6.0,6.5,7.4,7.1,6.1,7.5,6.7,6.3,7.9];
const fBefore3 = [0.0,-0.2,0.1,-0.3,0.2,-0.1,0.0,-0.4,0.1,-0.2,0.2,-0.1,-0.3,0.0,0.1,-0.2,0.0,-0.1,0.2,-0.3,0.0,0.1,-0.2,-0.1,0.1,-0.3,0.0,-0.1,0.1,-0.2];
const fBeforeMid3 = [-0.1,0.1,-0.3,0.0,-0.2,0.2,-0.4,-0.1,0.1,-0.2,0.0,-0.3,0.1,-0.1,-0.4,0.0,0.2,-0.2,-0.1,0.1,-0.3,0.0,-0.1,0.2,-0.2,0.0,-0.3,0.1,-0.1,0.0];
const fAfter3 = [0.9,1.4,0.6,1.2,0.8,1.6,1.0,0.5,1.3,2.0,1.1,1.5,0.9,1.7,1.2,1.6,2.4,1.3,1.8,1.5,1.9,1.4,2.1,1.7,2.6,1.8,2.2,1.0,2.3,1.9,2.4,2.0,2.7,2.2,3.2,2.3,2.8,2.5,1.4,2.7,3.0,2.6,3.4,2.8,3.1,2.4,3.3,2.9,4.0,3.0,3.5,2.8,3.7,3.2,4.3,3.3,3.8,2.6,3.6,3.4,3.3];
const fAfterMid3 = [1.3,0.7,1.1,1.5,0.6,1.2,1.7,0.9,1.4,1.1,1.6,1.9,1.0,1.5,2.2,1.3,1.7,1.2,2.0,1.6,2.4,1.5,1.9,2.2,1.4,2.1,2.6,1.9,2.3,2.8,1.7,2.5,2.2,2.9,2.0,2.6,3.5,2.4,2.8,3.1,2.2,2.9,3.3,2.6,3.0,3.6,2.7,3.2,2.5,3.4,3.8,2.9,3.3,3.1,3.7,4.4,3.2,3.5,3.9,3.3];
const fBefore4 = [0.1,0.3,-0.1,0.2,0.0,0.4,0.1,-0.2,0.2,0.3,0.0,0.1,-0.1,0.3,0.2,0.0,0.1,0.4,-0.1,0.2,0.0,0.3,0.1,-0.1,0.2,0.1,0.0,0.3,-0.2,0.1];
const fBeforeMid4 = [0.2,-0.1,0.3,0.0,0.1,-0.2,0.3,0.1,0.0,0.2,-0.1,0.4,0.0,0.2,-0.2,0.1,0.3,0.0,0.1,-0.1,0.2,0.0,0.3,-0.1,0.1,0.2,-0.2,0.0,0.2,0.1];
const fAfter4 = [-0.1,-1.6,0.2,-0.4,0.5,-0.2,-1.2,0.1,-0.6,0.3,-1.8,0.0,-0.3,0.4,-0.9,0.1,-0.2,0.6,-1.4,0.0,0.2,-0.5,0.1,-1.1,0.3,-0.1,0.8,-0.4,0.0,-1.7,0.2,-0.3,0.1,-0.8,0.4,0.0,-1.5,0.2,-0.2,0.5,-0.1,-1.9,0.1,-0.4,0.3,-0.2,0.9,-1.3,0.0,0.2,-0.6,0.1,-1.8,0.0,-0.3,0.2,-1.0,0.1,-0.2,-0.8,-0.1];
const fAfterMid4 = [0.3,-0.2,0.1,-1.3,0.2,0.0,-0.4,0.4,-0.1,-1.9,0.2,-0.3,0.1,0.5,-0.6,0.0,-1.5,0.3,-0.1,0.2,-0.4,0.1,-1.2,0.0,0.3,-0.2,-1.7,0.1,0.4,-0.3,0.0,-1.0,0.2,-0.1,0.3,-1.6,0.0,0.2,-0.5,0.1,-1.9,0.3,-0.2,0.0,-1.4,0.2,-0.1,0.4,-0.7,0.0,-1.6,0.1,-0.3,0.2,-1.2,0.0,-0.2,0.3,-1.5,0.1];

// ================= STYLE / LAYOUT =================
const BLUE = "#3348ff";
const FONT = '"Liberation Sans", Arial, Helvetica, sans-serif';
const palP4 = ["#3f2bef", "#3fe6cc", "#ff3322", "#0c6a12"];
const palP5 = ["#1f7ff0", "#9a3ae8", "#ff5c22", "#35ea35"];
const triangleDown = {
  draw(ctx, size) {
    const s3 = Math.sqrt(3);
    const y = -Math.sqrt(size / (s3 * 3));
    ctx.moveTo(0, -y * 2);
    ctx.lineTo(-s3 * y, y);
    ctx.lineTo(s3 * y, y);
    ctx.closePath();
  }
};
const plotSymbols = ["square", "circle", "triangle", triangleDown];
const legendSymbols = [d3.symbolSquare, d3.symbolCircle, d3.symbolTriangle, triangleDown];

const cols = [
  {left: 0, width: 378, ml: 49, mr: 45, padL: 4},
  {left: 378, width: 379, ml: 47, mr: 48, padL: 9}
];
const rows = [
  {top: 0, frameTop: 15, frameBottom: 228},
  {top: 256, frameTop: 271, frameBottom: 485},
  {top: 515, frameTop: 530, frameBottom: 742}
];

const panels = [
  {letter: "a", lx: 0, ly: 25, col: 0, row: 0, title: "Fat(1),  P", sub: "4", names: thickFat, pal: palP4,
   xmax: 2, step: STEP_2MIN, xTicks: xTicks2, yDomain: aYDomain, leftTicks: aLeftTicks, rightLabels: aRightLabels,
   before: [aBefore1, aBefore2, aBefore3, aBefore4], beforeMid: [aBeforeMid1, aBeforeMid2, aBeforeMid3, aBeforeMid4],
   after: [aAfter1, aAfter2, aAfter3, aAfter4], afterMid: [aAfterMid1, aAfterMid2, aAfterMid3, aAfterMid4],
   vLab: [21, 132], tLab: [371, 122],
   lg: {box: [58, 42, 143, 119], title: [60, 35], thick: [80, 58], entryEnd: 139, first: 74, markX: 75}},
  {letter: "b", lx: -1, ly: 286, col: 0, row: 1, title: "Skin-fat(1),  P", sub: "4", names: thickSkinFat, pal: palP4,
   xmax: 2, step: STEP_2MIN, xTicks: xTicks2, yDomain: bYDomain, leftTicks: bLeftTicks, rightLabels: bRightLabels,
   before: [bBefore1, bBefore2, bBefore3, bBefore4], beforeMid: [bBeforeMid1, bBeforeMid2, bBeforeMid3, bBeforeMid4],
   after: [bAfter1, bAfter2, bAfter3, bAfter4], afterMid: [bAfterMid1, bAfterMid2, bAfterMid3, bAfterMid4],
   vLab: [21, 390], tLab: [372, 382],
   lg: {box: [57.3, 298.3, 129.3, 374], title: [56, 292], thick: [70.7, 312.3], entryEnd: 122, first: 328.3, markX: 70.7}},
  {letter: "c", lx: 2, ly: 536, col: 0, row: 2, title: "Skin-fat-muscle(1),  P", sub: "4", names: thickSkinFatMuscle, pal: palP4,
   xmax: 2, step: STEP_2MIN, xTicks: xTicks2, yDomain: cYDomain, leftTicks: cLeftTicks, rightLabels: cRightLabels,
   before: [cBefore1, cBefore2, cBefore3, cBefore4], beforeMid: [cBeforeMid1, cBeforeMid2, cBeforeMid3, cBeforeMid4],
   after: [cAfter1, cAfter2, cAfter3, cAfter4], afterMid: [cAfterMid1, cAfterMid2, cAfterMid3, cAfterMid4],
   vLab: [21, 648], tLab: [372, 642],
   lg: {box: [57.3, 552.7, 129.3, 628.3], title: [56.7, 548], thick: [71.7, 567.7], entryEnd: 128.3, first: 581.7, markX: 75}},
  {letter: "d", lx: 369, ly: 25, col: 1, row: 0, title: "Fat(1),  P", sub: "5", names: thickFat, pal: palP5,
   xmax: 3, step: STEP_3MIN, xTicks: xTicks3, yDomain: dYDomain, leftTicks: dLeftTicks, rightLabels: dRightLabels,
   before: [dBefore1, dBefore2, dBefore3, dBefore4], beforeMid: [dBeforeMid1, dBeforeMid2, dBeforeMid3, dBeforeMid4],
   after: [dAfter1, dAfter2, dAfter3, dAfter4], afterMid: [dAfterMid1, dAfterMid2, dAfterMid3, dAfterMid4],
   vLab: [398, 107], tLab: [746, 102],
   lg: {box: [430.7, 37.7, 514.7, 115], title: [431.3, 35], thick: [453, 54], entryEnd: 511, first: 69.3, markX: 450.7}},
  {letter: "e", lx: 369, ly: 283, col: 1, row: 1, title: "Skin-fat(1),  P", sub: "5", names: thickSkinFat, pal: palP5,
   xmax: 3, step: STEP_3MIN, xTicks: xTicks3, yDomain: eYDomain, leftTicks: eLeftTicks, rightLabels: eRightLabels,
   before: [eBefore1, eBefore2, eBefore3, eBefore4], beforeMid: [eBeforeMid1, eBeforeMid2, eBeforeMid3, eBeforeMid4],
   after: [eAfter1, eAfter2, eAfter3, eAfter4], afterMid: [eAfterMid1, eAfterMid2, eAfterMid3, eAfterMid4],
   vLab: [398, 380], tLab: [742, 380],
   lg: {box: [430.7, 298.3, 506.3, 376.7], title: [434, 293], thick: [444.7, 315], entryEnd: 501.3, first: 330, markX: 452}},
  {letter: "f", lx: 371, ly: 541, col: 1, row: 2, title: "Skin-fat-muscle(1),  P", sub: "5", names: thickSkinFatMuscle, pal: palP5,
   xmax: 3, step: STEP_3MIN, xTicks: xTicks3, yDomain: fYDomain, leftTicks: fLeftTicks, rightLabels: fRightLabels,
   before: [fBefore1, fBefore2, fBefore3, fBefore4], beforeMid: [fBeforeMid1, fBeforeMid2, fBeforeMid3, fBeforeMid4],
   after: [fAfter1, fAfter2, fAfter3, fAfter4], afterMid: [fAfterMid1, fAfterMid2, fAfterMid3, fAfterMid4],
   vLab: [398, 640], tLab: [748, 640],
   lg: {box: [431.3, 553.3, 506.3, 630], title: [429.7, 550], thick: [446.3, 569], entryEnd: 501.3, first: 583.3, markX: 451.3}}
];

const fig = document.getElementById("fig");

for (const p of panels) {
  const C = cols[p.col], R = rows[p.row];
  const height = R.frameBottom - R.top + 38;
  const series = p.names.map((name, k) => [
    ...p.before[k].map((v, i) => ({t: i * p.step, v})),
    ...p.beforeMid[k].map((v, i) => ({t: (i + 0.5) * p.step, v})),
    ...p.after[k].map((v, j) => ({t: HEAT_ON + j * p.step, v})),
    ...p.afterMid[k].map((v, j) => ({t: HEAT_ON + (j + 0.5) * p.step, v}))
  ]);
  const rightMap = new Map(p.leftTicks.map((d, i) => [d, p.rightLabels[i]]));
  const chart = Plot.plot({
    width: C.width, height,
    marginLeft: C.ml, marginRight: C.mr, marginTop: R.frameTop - R.top, marginBottom: 38,
    style: {fontFamily: FONT, fontSize: "13px", background: "transparent", overflow: "visible", color: "#000"},
    x: {domain: [0, p.xmax]},
    y: {domain: p.yDomain},
    marks: [
      ...series.map((s, k) => Plot.dot(s, {x: "t", y: "v", symbol: plotSymbols[k], fill: p.pal[k], r: 1.35, clip: true})),
      Plot.axisX(p.xTicks, {tickSize: 0, tickPadding: 6, tickFormat: d3.format(".1f"), label: null}),
      Plot.axisY(p.leftTicks, {anchor: "left", tickSize: 0, tickPadding: C.padL, tickFormat: d => String(d), label: null}),
      Plot.axisY(p.leftTicks, {anchor: "right", tickSize: 0, tickPadding: 6, tickFormat: d => rightMap.get(d), label: null, color: BLUE})
    ]
  });
  chart.style.left = C.left + "px";
  chart.style.top = R.top + "px";
  fig.appendChild(chart);

  const X = v => chart.scale("x").apply(v);
  const Y = v => chart.scale("y").apply(v);
  const g = d3.select(chart).append("g").attr("text-anchor", "start");
  const X0 = X(0), X1 = X(p.xmax), YB = Y(p.yDomain[0]), YT = Y(p.yDomain[1]);

  const yStep = p.leftTicks[1] - p.leftTicks[0];
  const yMinor = [];
  for (let v = p.leftTicks[0] - yStep / 2; v <= p.yDomain[1]; v += yStep) if (v > p.yDomain[0] && v < p.yDomain[1]) yMinor.push(v);
  const xMinor = [];
  for (let v = 0.25; v < p.xmax; v += 0.5) xMinor.push(v);

  const line = (x1, y1, x2, y2, stroke, w) => g.append("line").attr("x1", x1).attr("y1", y1).attr("x2", x2).attr("y2", y2).attr("stroke", stroke).attr("stroke-width", w);
  for (const v of p.leftTicks) if (v > p.yDomain[0] && v < p.yDomain[1]) {
    line(X0, Y(v), X0 + 4, Y(v), "#000", 1.1);
    line(X1, Y(v), X1 - 4, Y(v), BLUE, 1.1);
  }
  for (const v of yMinor) {
    line(X0, Y(v), X0 + 2.5, Y(v), "#000", 1);
    line(X1, Y(v), X1 - 2.5, Y(v), BLUE, 1);
  }
  for (const v of p.xTicks) if (v > 0 && v < p.xmax) line(X(v), YB, X(v), YB - 4, "#000", 1.1);
  for (const v of xMinor) line(X(v), YB, X(v), YB - 2.5, "#000", 1);
  line(X0, YT, X1, YT, "#000", 1.5);
  line(X0, YT - 0.7, X0, YB + 0.7, "#000", 1.5);
  line(X0, YB, X1, YB, "#000", 1.5);
  line(X1, YT - 0.7, X1, YB + 0.7, BLUE, 2);

  g.append("text").attr("x", (X0 + X1) / 2).attr("y", YB + 30).attr("text-anchor", "middle")
    .attr("font-size", 13).attr("fill", "#000").text("Time (min)");
  g.append("text").attr("transform", `translate(${p.vLab[0] - C.left},${p.vLab[1] - R.top}) rotate(-90)`)
    .attr("text-anchor", "middle").attr("dominant-baseline", "central").attr("font-size", 13).attr("fill", "#000").text("ΔV (μV)");
  g.append("text").attr("transform", `translate(${p.tLab[0] - C.left},${p.tLab[1] - R.top}) rotate(-90)`)
    .attr("text-anchor", "middle").attr("dominant-baseline", "central").attr("font-size", 13).attr("fill", BLUE).text("ΔT (k)");

  const L = p.lg, ox = C.left, oy = R.top;
  const tt = g.append("text").attr("x", L.title[0] - ox).attr("y", L.title[1] - oy).attr("text-anchor", "start")
    .attr("font-size", 13.5).attr("font-weight", "bold").attr("fill", "#000").style("white-space", "pre");
  tt.append("tspan").text(p.title);
  tt.append("tspan").attr("font-size", 8.5).attr("dy", 2.5).text(p.sub);
  g.append("rect").attr("x", L.box[0] - ox).attr("y", L.box[1] - oy)
    .attr("width", L.box[2] - L.box[0]).attr("height", L.box[3] - L.box[1])
    .attr("fill", "#fff").attr("stroke", "#8a8a8a").attr("stroke-width", 1);
  g.append("text").attr("x", L.thick[0] - ox).attr("y", L.thick[1] - oy).attr("text-anchor", "start")
    .attr("font-size", 13).attr("fill", "#000").text("Thickness");
  p.names.forEach((name, k) => {
    const by = L.first + k * 14.6 - oy;
    g.append("path").attr("d", d3.symbol().type(legendSymbols[k]).size(k === 0 ? 24 : 26)())
      .attr("transform", `translate(${L.markX - ox},${by - 4.5})`).attr("fill", p.pal[k]);
    g.append("text").attr("x", L.entryEnd - ox).attr("y", by).attr("text-anchor", "end")
      .attr("font-size", 13).attr("fill", "#000").text(name);
  });
}

const over = d3.select(fig).append("svg").attr("width", 757).attr("height", 780)
  .style("left", "0px").style("top", "0px").style("pointer-events", "none");
for (const p of panels) {
  over.append("text").attr("x", p.lx).attr("y", p.ly).attr("font-family", FONT).attr("text-anchor", "start")
    .attr("font-weight", "bold").attr("font-size", 44).attr("fill", "#000").text(p.letter);
}
</script>
</body></html>
